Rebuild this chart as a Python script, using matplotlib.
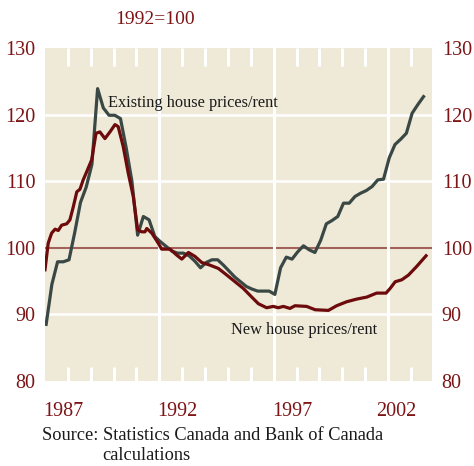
import numpy as np
import matplotlib
matplotlib.use('Agg')
import matplotlib.pyplot as plt
from matplotlib.transforms import offset_copy

# Existing house prices/rent, quarterly from 1987Q1
existing_start = 1987.05
existing = [88.5, 94.5, 97.9, 97.9, 98.2, 102.3, 106.8, 109.1,
            112.5, 123.9, 121.0, 119.9, 119.9, 119.4, 115.0, 110.0,
            101.9, 104.7, 104.2, 101.7, 100.9, 100.2, 99.5, 99.2,
            99.2, 98.8, 98.0, 97.0, 97.8, 98.2, 98.2, 97.4,
            96.5, 95.6, 94.9, 94.2, 93.8, 93.5, 93.5, 93.5,
            93.0, 97.0, 98.6, 98.3, 99.4, 100.3, 99.7, 99.3,
            101.1, 103.6, 104.1, 104.7, 106.7, 106.7, 107.7, 108.2,
            108.6, 109.2, 110.2, 110.3, 113.5, 115.5, 116.3, 117.2,
            120.2, 121.5, 122.7]

# New house prices/rent
new_t = [1987.0, 1987.14, 1987.29, 1987.44, 1987.58, 1987.73, 1987.95, 1988.09,
         1988.24, 1988.39, 1988.53, 1988.67, 1988.82, 1989.04, 1989.23, 1989.40,
         1989.62, 1989.84, 1990.06, 1990.20, 1990.42, 1990.64, 1990.86, 1991.05,
         1991.23, 1991.37, 1991.45, 1991.67, 1991.95, 1992.10, 1992.47, 1992.76,
         1992.98, 1993.27, 1993.56, 1993.85, 1994.21, 1994.58, 1994.95, 1995.31,
         1995.67, 1996.04, 1996.33, 1996.69, 1996.98, 1997.20, 1997.42, 1997.71,
         1997.93, 1998.44, 1998.81, 1999.39, 1999.75, 2000.19, 2000.63, 2001.07,
         2001.50, 2001.91, 2002.09, 2002.31, 2002.60, 2002.89, 2003.25, 2003.66]
new_v = [96.7, 100.7, 102.2, 102.8, 102.6, 103.4, 103.6, 104.2,
         106.2, 108.4, 108.8, 110.2, 111.4, 113.2, 117.2, 117.4,
         116.4, 117.4, 118.5, 118.2, 115.2, 111.2, 107.7, 102.7,
         102.4, 102.4, 102.9, 102.2, 100.7, 99.8, 99.8, 98.9,
         98.3, 99.3, 98.7, 97.8, 97.4, 96.9, 95.9, 94.9,
         93.9, 92.6, 91.6, 91.0, 91.2, 91.0, 91.2, 90.9,
         91.3, 91.2, 90.7, 90.6, 91.3, 91.9, 92.3, 92.6,
         93.2, 93.2, 93.9, 94.9, 95.2, 95.9, 97.2, 98.8]

year_labels = ['1987', '1992', '1997', '2002']
y_ticks = [80, 90, 100, 110, 120, 130]

red_text = '#7d1416'
bg = '#efead7'
plt.rcParams['font.family'] = ['Liberation Serif', 'DejaVu Serif']

fig = plt.figure(figsize=(4.74, 4.66), dpi=100)
ax = fig.add_axes([45 / 474, 85 / 466, 387 / 474, 333 / 466])
ax.set_facecolor(bg)
ax.set_xlim(1987, 2003.92)
ax.set_ylim(80, 130)

# grid
for y in [90, 110, 120]:
    ax.axhline(y, color='white', lw=1.8, zorder=1)
ax.axhline(100, color='#a4625c', lw=1.5, zorder=1)
for yr in range(1988, 2004):
    if yr in (1992, 1997, 2002):
        ax.axvline(yr, color='white', lw=2.2, zorder=1)
    else:
        ax.plot([yr, yr], [127.3, 130], color='white', lw=2.2, zorder=1,
                solid_capstyle='butt')
        ax.plot([yr, yr], [80, 82.1], color='white', lw=2.2, zorder=1,
                solid_capstyle='butt')

ex_t = existing_start + 0.25 * np.arange(len(existing))
ax.plot(ex_t, existing, color='#3a4845', lw=2.3, zorder=3)
ax.plot(new_t, new_v, color='#6c0a0c', lw=2.3, zorder=4)

for s in ax.spines.values():
    s.set_visible(False)

ax.set_yticks(y_ticks)
ax.tick_params(axis='y', length=0, pad=7, labelsize=14.5, labelcolor=red_text,
               right=True, labelright=True)
ax.set_xticks([int(y) for y in year_labels])
ax.set_xticklabels(year_labels)
ax.tick_params(axis='x', length=0, pad=15, labelsize=14.5, labelcolor=red_text)
for lab in ax.get_xticklabels():
    lab.set_horizontalalignment('left')
    lab.set_transform(offset_copy(lab.get_transform(), fig=fig, x=-2, y=0, units='dots'))
last = ax.get_xticklabels()[-1]
last.set_transform(offset_copy(last.get_transform(), fig=fig, x=-10, y=0, units='dots'))

fig.text(115 / 474, 1 - 19 / 466, '1992=100', color=red_text, fontsize=14,
         va='center', ha='left')
ax.text(1989.75, 121.7, 'Existing house prices/rent', fontsize=11.8,
        color='#1a1a1a', va='center', ha='left')
ax.text(1995.15, 87.6, 'New house prices/rent', fontsize=11.8,
        color='#1a1a1a', va='center', ha='left')
fig.text(42 / 474, 1 - 436 / 466, 'Source: Statistics Canada and Bank of Canada',
         fontsize=13.2, color='#1a1a1a', va='center', ha='left')
fig.text(102 / 474, 1 - 456 / 466, 'calculations',
         fontsize=13.2, color='#1a1a1a', va='center', ha='left')

fig.savefig('out.png', dpi=100)
